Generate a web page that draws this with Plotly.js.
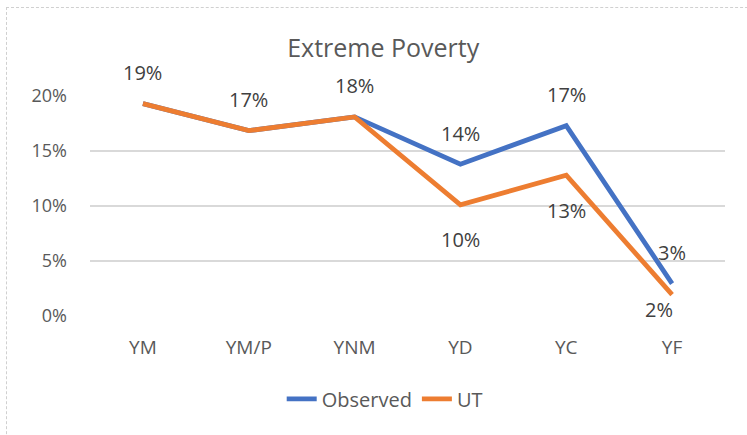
<!DOCTYPE html>
<html><head><meta charset="utf-8">
<script src="https://cdn.plot.ly/plotly-3.0.1.min.js"></script>
<style>
html,body{margin:0;padding:0;background:#fff;overflow:hidden;}
#frame{position:absolute;left:6px;top:7px;width:800px;height:500px;border:1px dashed #d0d0d0;}
#chart{position:absolute;left:0;top:0;width:747px;height:435px;}
</style></head>
<body>
<div id="frame"></div>
<div id="chart"></div>
<script>
const categories = ["YM","YM/P","YNM","YD","YC","YF"];
const observed = [19.3, 16.85, 18.1, 13.8, 17.3, 2.95];
const ut = [19.3, 16.85, 18.1, 10.1, 12.8, 1.95];
const observedLabels = ["19%","17%","18%","14%","17%","3%"];
const utLabels = ["","","","10%","13%","2%"];
const yTicks = [0,5,10,15,20];

const font = "'Open Sans', Lato, sans-serif";
const traces = [
  {x: categories, y: observed, name: "Observed", type: "scatter", mode: "lines",
   line: {color: "#4472C4", width: 4.8}},
  {x: categories, y: ut, name: "UT", type: "scatter", mode: "lines",
   line: {color: "#ED7D31", width: 4.8}}
];
const annotations = [];
observed.forEach((v,i)=>{
  if(observedLabels[i]) annotations.push({x: categories[i], y: v, text: observedLabels[i], showarrow:false,
    yshift: 31, font:{family:font,size:20,color:"#404040"}});
});
ut.forEach((v,i)=>{
  if(utLabels[i]) annotations.push({x: categories[i], y: v, text: utLabels[i], showarrow:false,
    yshift: i===5 ? -15 : -35, xshift: i===5 ? -13 : 0, font:{family:font,size:20,color:"#404040"}});
});
const layout = {
  width: 747, height: 435,
  paper_bgcolor: "rgba(0,0,0,0)", plot_bgcolor: "rgba(0,0,0,0)",
  margin: {l: 90, r: 22, t: 96, b: 119},
  title: {text: "Extreme Poverty", x: 0.513, xanchor: "center", y: 0.89, yanchor: "middle",
    font: {family: font, size: 25, color: "#595959"}},
  xaxis: {type: "category", range: [-0.5, 5.5], showgrid: false, zeroline: false, showline: false, ticks: "",
    tickfont: {family: font, size: 19, color: "#595959"}, ticklabelstandoff: 18, fixedrange: true},
  yaxis: {range: [0, 20], tickvals: yTicks, ticktext: yTicks.map(t=>t+"%"), showgrid: true,
    gridcolor: "#d9d9d9", gridwidth: 1.5, zeroline: false, showline: false, ticks: "",
    tickfont: {family: font, size: 18, color: "#595959"}, ticklabelstandoff: 22, fixedrange: true},
  showlegend: true,
  legend: {orientation: "h", x: 0.515, xanchor: "center", xref: "container", y: 0.083, yref: "container", yanchor: "middle",
    font: {family: font, size: 20, color: "#595959"}, tracegroupgap: 0},
  annotations: annotations
};
Plotly.newPlot("chart", traces, layout, {displayModeBar: false, staticPlot: true});
</script>
</body></html>
